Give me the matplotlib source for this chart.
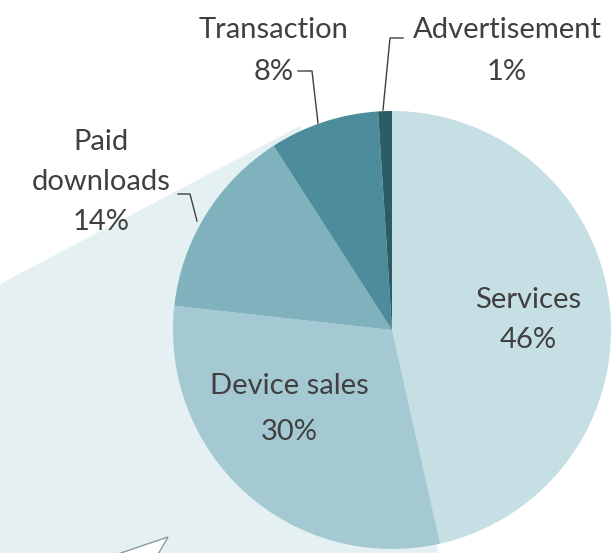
import matplotlib.pyplot as plt
from matplotlib.patches import Polygon

plt.rcParams['font.family'] = ['Lato', 'DejaVu Sans']

# revenue split
segments = ['Services', 'Device sales', 'Paid downloads', 'Transaction', 'Advertisement']
shares = [46, 30, 14, 8, 1]
colors = ['#c6dfe5', '#a4c9d2', '#80b2be', '#4d8d9b', '#2c5c66']

W, H = 611, 553
fig = plt.figure(figsize=(W / 100, H / 100), dpi=100)
ax = fig.add_axes([0, 0, 1, 1])


def Y(y):
    # top-down pixel rows -> data y
    return H - y


cx, cy, r = 392, 330, 219

# pale callout band behind the pie
band = Polygon([(0, Y(284)), (300, Y(126)), (cx, Y(cy)), (440, Y(560)), (0, Y(560))],
               closed=True, facecolor='#e5f0f3', edgecolor='none', zorder=0)
ax.add_patch(band)

# arrow head at the bottom
arrow = Polygon([(112, Y(556)), (168, Y(537)), (157, Y(556))], closed=True,
                facecolor='white', edgecolor='#8a9a9e', linewidth=1.0, zorder=1)
ax.add_patch(arrow)

wedges, _ = ax.pie(shares, colors=colors, startangle=90, counterclock=False,
                   center=(cx, Y(cy)), radius=r, frame=True,
                   wedgeprops=dict(linewidth=0))
ax.set_xlim(0, W)
ax.set_ylim(0, H)
ax.set_aspect('equal')
ax.axis('off')

txt = dict(fontsize=21, color='#404040', ha='center', va='center', zorder=5)

# inside labels
ax.text(528, Y(300), segments[0], **txt)
ax.text(528, Y(340), f'{shares[0]}%', **txt)
ax.text(289, Y(386), segments[1], **txt)
ax.text(289, Y(432), f'{shares[1]}%', **txt)

# outside labels
ax.text(101, Y(142), 'Paid', **txt)
ax.text(101, Y(182), 'downloads', **txt)
ax.text(101, Y(222), f'{shares[2]}%', **txt)
ax.text(274, Y(30), segments[3], **txt)
ax.text(274, Y(72), f'{shares[3]}%', **txt)
ax.text(507, Y(30), segments[4], **txt)
ax.text(507, Y(72), f'{shares[4]}%', **txt)

# leader lines
lc = dict(color='#404040', linewidth=1.0, zorder=4)
ax.plot([178, 190, 197], [Y(194), Y(194), Y(221)], **lc)
ax.plot([298, 312, 318], [Y(71), Y(71), Y(123)], **lc)
ax.plot([403, 390, 383], [Y(38), Y(38), Y(110)], **lc)

fig.savefig('out.png', dpi=100)
